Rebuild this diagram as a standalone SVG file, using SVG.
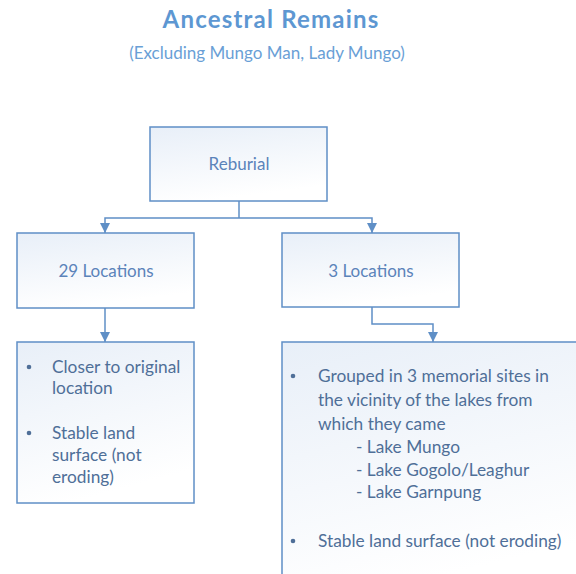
<svg xmlns="http://www.w3.org/2000/svg" width="576" height="574" viewBox="0 0 576 574">
  <style>
    .box { fill: url(#boxFill); stroke: #5f8fc6; stroke-width: 1.5; }
    .link { fill: none; stroke: #5f8fc6; stroke-width: 1.5; }
    .title { font-family: Lato, "Liberation Sans", sans-serif; font-weight: bold; font-size: 24px; letter-spacing: 1.2px; fill: #5d97d2; }
    .subtitle { font-family: Lato, "Liberation Sans", sans-serif; font-size: 17px; fill: #6a9fd6; }
    .label { font-family: Lato, "Liberation Sans", sans-serif; font-size: 17px; fill: #5b83ba; }
    .item { font-family: Lato, "Liberation Sans", sans-serif; font-size: 17.3px; fill: #4f6f98; }
    .dot { fill: #4f6f98; }
  </style>
  <defs>
    <linearGradient id="boxFill" x1="0" y1="0" x2="0.3" y2="1">
      <stop offset="0" stop-color="#e8eff8"/>
      <stop offset="1" stop-color="#ffffff"/>
    </linearGradient>
    <marker id="arrow" markerUnits="userSpaceOnUse" markerWidth="12" markerHeight="12" viewBox="0 0 12 12" refX="11" refY="6" orient="auto">
      <path d="M1,1 L11,6 L1,11 Z" fill="#5f8fc6"/>
    </marker>
  </defs>

  <rect width="576" height="574" fill="#ffffff"/>

  <!-- heading -->
  <text class="title" x="271" y="28" text-anchor="middle">Ancestral Remains</text>
  <text class="subtitle" x="267" y="59" text-anchor="middle">(Excluding Mungo Man, Lady Mungo)</text>

  <!-- connectors -->
  <g id="connectors">
    <path class="link" d="M239,201 V218"/>
    <path class="link" d="M239,218 H105 V233" marker-end="url(#arrow)"/>
    <path class="link" d="M239,218 H372 V233" marker-end="url(#arrow)"/>
    <path class="link" d="M105,308 V342" marker-end="url(#arrow)"/>
    <path class="link" d="M372,307 V324 H433 V342" marker-end="url(#arrow)"/>
  </g>

  <g id="reburial">
    <rect class="box" x="150" y="127" width="177" height="74"/>
    <text class="label" x="239" y="170" text-anchor="middle">Reburial</text>
  </g>

  <g id="loc29">
    <rect class="box" x="17" y="233" width="177" height="75"/>
    <text class="label" x="106" y="277" text-anchor="middle">29 Locations</text>
  </g>

  <g id="loc3">
    <rect class="box" x="282" y="233" width="177" height="74"/>
    <text class="label" x="371" y="277" text-anchor="middle">3 Locations</text>
  </g>

  <g id="loc29-notes">
    <rect class="box" x="17" y="342" width="177" height="161"/>
    <circle class="dot" cx="29" cy="367" r="2.3"/>
    <text class="item" x="52" y="373">Closer to original</text>
    <text class="item" x="52" y="394">location</text>
    <circle class="dot" cx="29" cy="433" r="2.3"/>
    <text class="item" x="52" y="439">Stable land</text>
    <text class="item" x="52" y="461">surface (not</text>
    <text class="item" x="52" y="483">eroding)</text>
  </g>

  <g id="loc3-notes">
    <rect class="box" x="282" y="342" width="310" height="250"/>
    <circle class="dot" cx="293" cy="376" r="2.3"/>
    <text class="item" x="318" y="382">Grouped in 3 memorial sites in</text>
    <text class="item" x="318" y="406">the vicinity of the lakes from</text>
    <text class="item" x="318" y="430">which they came</text>
    <text class="item" x="356" y="453">- Lake Mungo</text>
    <text class="item" x="356" y="476">- Lake Gogolo/Leaghur</text>
    <text class="item" x="356" y="498">- Lake Garnpung</text>
    <circle class="dot" cx="293" cy="541" r="2.3"/>
    <text class="item" x="318" y="547">Stable land surface (not eroding)</text>
  </g>
</svg>
